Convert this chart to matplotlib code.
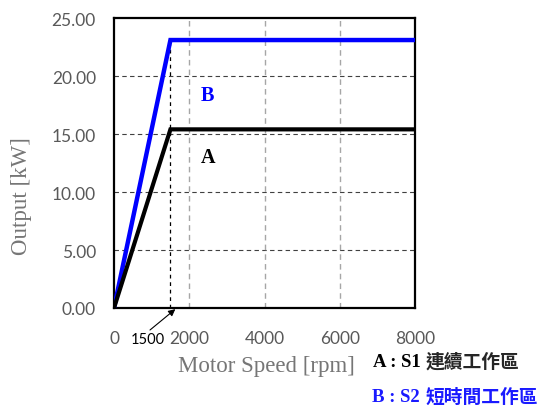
import matplotlib
matplotlib.use('Agg')
import matplotlib.pyplot as plt

# Daten
speed = [0, 1500, 8000]          # rpm
s1_output = [0, 15.4, 15.4]      # kW, A: S1 連續工作區
s2_output = [0, 23.1, 23.1]      # kW, B: S2 短時間工作區
x_ticks = [0, 2000, 4000, 6000, 8000]
y_ticks = [0, 5, 10, 15, 20, 25]
knee_speed = 1500

tick_grey = '#595959'
label_grey = '#767676'

fig = plt.figure(figsize=(5.48, 4.06), dpi=100)
ax = fig.add_axes([114 / 548, 97 / 406, 301 / 548, 290 / 406])

# Gitter
for y in y_ticks[1:-1]:
    ax.axhline(y, color='#404040', linestyle=(0, (4, 3)), linewidth=0.8, zorder=1)
for x in x_ticks[1:-1]:
    ax.axvline(x, color='#a6a6a6', linestyle=(0, (4, 3)), linewidth=1.0, zorder=1)
ax.plot([knee_speed, knee_speed], [0, s2_output[1]], color='black',
        linestyle=(0, (3, 3)), linewidth=0.9, zorder=2)

# Kurven
ax.plot(speed, s2_output, color='#0000ff', linewidth=3.2, solid_joinstyle='miter', zorder=3)
ax.plot(speed, s1_output, color='black', linewidth=3.0, solid_joinstyle='miter', zorder=3)

ax.set_xlim(0, 8000)
ax.set_ylim(0, 25)
ax.set_xticks(x_ticks)
ax.set_yticks(y_ticks)
ax.set_yticklabels([f'{v:.2f}' for v in y_ticks])
ax.tick_params(length=0, labelsize=12.5, labelcolor=tick_grey)
ax.tick_params(axis='x', pad=15.5)
ax.tick_params(axis='y', pad=13)
for lbl in ax.get_xticklabels() + ax.get_yticklabels():
    lbl.set_fontfamily('Lato')
for sp in ax.spines.values():
    sp.set_linewidth(1.6)
    sp.set_color('black')

# Beschriftungen
fig.text(266 / 548, 1 - 367 / 406, 'Motor Speed [rpm]', ha='center', va='center',
         fontsize=16.5, color=label_grey, family='Liberation Serif')
fig.text(22 / 548, 1 - 196 / 406, 'Output [kW]', ha='center', va='center', rotation=90,
         fontsize=16.5, color=label_grey, family='Liberation Serif')

ax.text(2470, 18.4, 'B', color='#0000ff', fontsize=14.5, fontweight='bold',
        family='Liberation Serif', ha='center', va='center')
ax.text(2490, 13.0, 'A', color='black', fontsize=14.5, fontweight='bold',
        family='Liberation Serif', ha='center', va='center')

# 1500-Pfeil
fig.text(148 / 548, 1 - 340 / 406, str(knee_speed), ha='center', va='center',
         fontsize=10.5, color='black', family='Lato')
ax.annotate('', xy=(knee_speed + 130, -0.1), xycoords='data',
            xytext=(150 / 548, 1 - 331 / 406), textcoords='figure fraction',
            arrowprops=dict(arrowstyle='-|>', color='black', lw=0.8,
                            mutation_scale=10, shrinkA=0, shrinkB=0),
            annotation_clip=False)

# Legende als Text
lat = 'Liberation Serif'
cjk = 'Noto Sans CJK TC'
fig.text(373 / 548, 1 - 363 / 406, 'A : S1', ha='left', va='center',
         fontsize=13.5, fontweight='bold', color='black', family=lat)
fig.text(426 / 548, 1 - 362 / 406, '連續工作區', ha='left', va='center',
         fontsize=13.5, fontweight='bold', color='#262626', family=cjk)
fig.text(372 / 548, 1 - 398 / 406, 'B : S2', ha='left', va='center',
         fontsize=13.5, fontweight='bold', color='#1a1aff', family=lat)
fig.text(426 / 548, 1 - 397 / 406, '短時間工作區', ha='left', va='center',
         fontsize=13.5, fontweight='bold', color='#1a1aff', family=cjk)

fig.savefig('out.png', dpi=100)
